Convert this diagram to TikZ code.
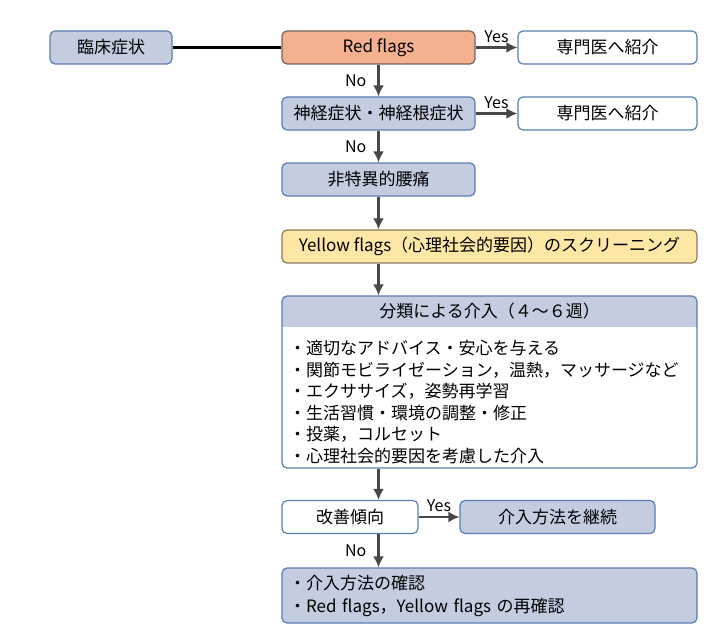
\documentclass[tikz,border=0pt]{standalone}
\usepackage{fontspec}
\setmainfont{Noto Sans CJK JP}
\usetikzlibrary{arrows.meta}

\definecolor{bluefill}{HTML}{C4CCE0}
\definecolor{blueline}{HTML}{5B7DB1}
\definecolor{redfill}{HTML}{F4B08F}
\definecolor{redline}{HTML}{75625A}
\definecolor{yelfill}{HTML}{FDE7A5}
\definecolor{yelline}{HTML}{8C7B58}
\definecolor{arrowgray}{HTML}{474747}

\begin{document}
\begin{tikzpicture}[x = 1pt, y = -1pt,
    box/.style = {draw = blueline, line width = 1.2pt, rounded corners = 5pt,
                  minimum height = 33pt, inner sep = 0pt,
                  font = \fontsize{17}{20}\selectfont},
    bluebox/.style = {box, fill = bluefill},
    whitebox/.style = {box, fill = white},
    flow/.style = {draw = arrowgray, line width = 2.3pt, -{Latex[length=11pt, width=11pt]}},
    lbl/.style = {font = \fontsize{16}{19}\selectfont, inner sep = 1pt}]

    \useasboundingbox (0,0) rectangle (715,644);

    % top row
    \node (clin) [bluebox, minimum width = 122pt] at (111, 47.5) {臨床症状};
    \node (red) [box, fill = redfill, draw = redline, minimum width = 193pt] at (378.5, 47.5) {Red flags};
    \node (spec1) [whitebox, minimum width = 179pt] at (607.5, 47.5) {専門医へ紹介};

    % second row
    \node (neuro) [bluebox, minimum width = 193pt] at (378.5, 113.5) {神経症状・神経根症状};
    \node (spec2) [whitebox, minimum width = 179pt] at (607.5, 113.5) {専門医へ紹介};

    \node (nonspec) [bluebox, minimum width = 193pt] at (378.5, 179.5) {非特異的腰痛};

    \node (yellow) [box, fill = yelfill, draw = yelline, minimum width = 415pt] at (489.5, 246.5)
        {Yellow flags（心理社会的要因）のスクリーニング};

    % classification box with header
    \fill [bluefill] (282, 327) [rounded corners = 5pt] -- (282, 296) -- (697, 296) [sharp corners] -- (697, 327) -- cycle;
    \node (intv) [box, minimum width = 415pt, minimum height = 172pt] at (489.5, 382) {};
    \node (head) [font = \fontsize{17}{20}\selectfont] at (489.5, 311.5) {分類による介入（４～６週）};
    \node (list) [anchor = north west, align = left, inner sep = 0pt,
                  font = \fontsize{17}{21.5}\selectfont] at (289, 340)
        {・適切なアドバイス・安心を与える\\
         ・関節モビライゼーション，温熱，マッサージなど\\
         ・エクササイズ，姿勢再学習\\
         ・生活習慣・環境の調整・修正\\
         ・投薬，コルセット\\
         ・心理社会的要因を考慮した介入};

    % bottom
    \node (improve) [whitebox, minimum width = 136pt] at (350, 517) {改善傾向};
    \node (cont) [bluebox, minimum width = 195pt] at (557.5, 517) {介入方法を継続};
    \node (check) [bluebox, minimum width = 415pt, minimum height = 55pt, text width = 401pt,
                   align = left, font = \fontsize{17}{23}\selectfont] at (489.5, 595.5)
        {・介入方法の確認\\・Red flags，Yellow flags の再確認};

    % connectors
    \draw [line width = 2.3pt] (clin) -- (red);
    \draw [flow] (red) -- node [lbl, above, yshift = 3pt] {Yes} (spec1);
    \draw [flow] (neuro) -- node [lbl, above, yshift = 3pt] {Yes} (spec2);
    \draw [flow] (red.south -| nonspec) -- node [lbl, left, xshift = -10pt] {No} (neuro.north -| nonspec);
    \draw [flow] (neuro.south -| nonspec) -- node [lbl, left, xshift = -10pt] {No} (nonspec.north -| nonspec);
    \draw [flow] (nonspec) -- (yellow.north -| nonspec);
    \draw [flow] (yellow.south -| nonspec) -- (intv.north -| nonspec);
    \draw [flow] (intv.south -| nonspec) -- (improve.north -| nonspec);
    \draw [flow] (improve) -- node [lbl, above, yshift = 3pt] {Yes} (cont);
    \draw [flow] (improve.south -| nonspec) -- node [lbl, left, xshift = -10pt] {No} (check.north -| nonspec);
\end{tikzpicture}
\end{document}
